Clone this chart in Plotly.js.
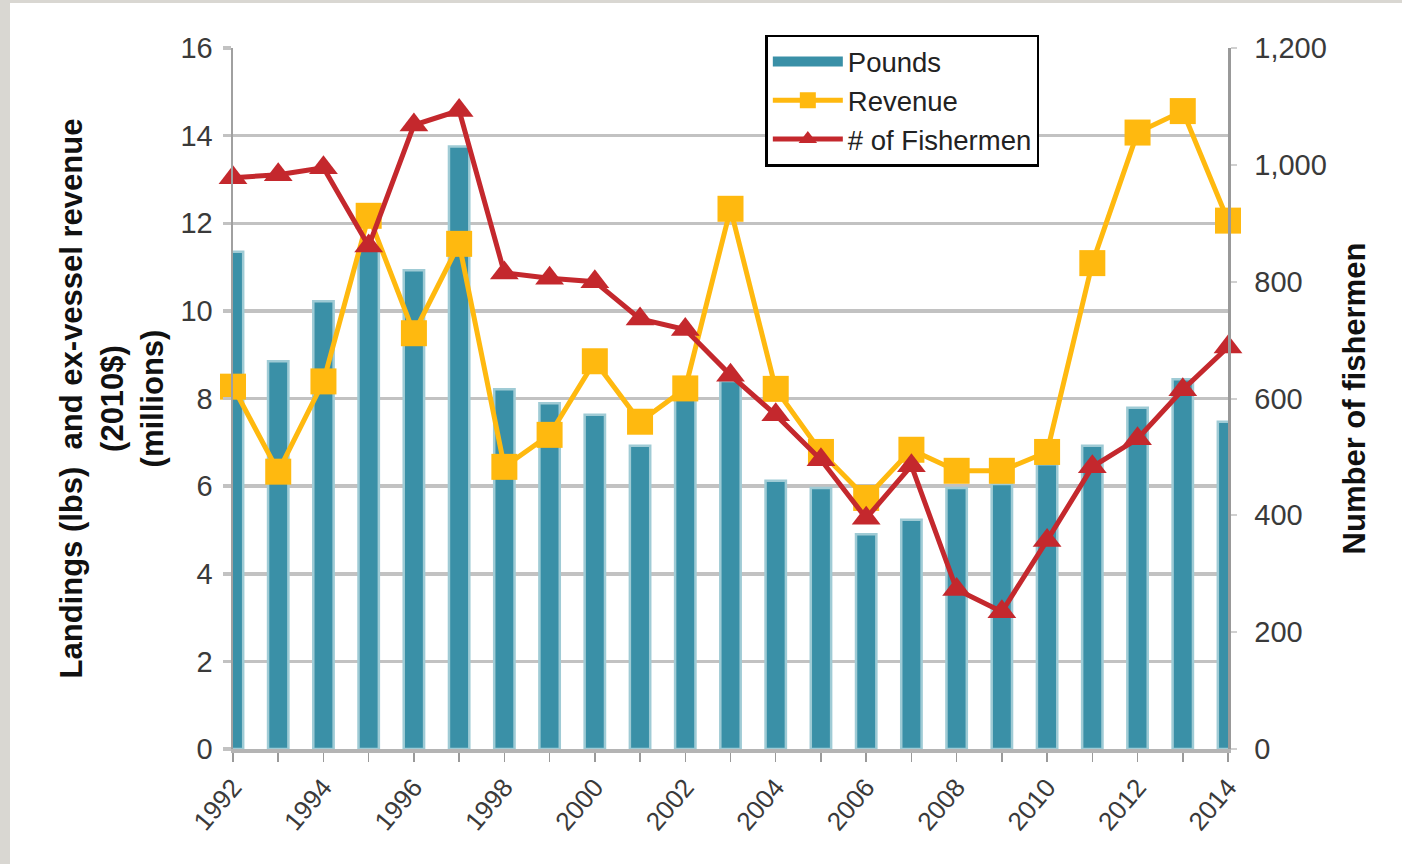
<!DOCTYPE html>
<html>
<head>
<meta charset="utf-8">
<script src="https://cdn.plot.ly/plotly-3.0.1.min.js"></script>
<style>
  html, body { margin: 0; padding: 0; background: #D9D7D2; }
  #chart { position: absolute; left: 10px; top: 3px; width: 1392px; height: 861px; background: #fff; }
</style>
</head>
<body>
<div id="chart"></div>
<script>
const years = [1992,1993,1994,1995,1996,1997,1998,1999,2000,2001,2002,2003,2004,2005,2006,2007,2008,2009,2010,2011,2012,2013,2014];
const pounds = [11.35,8.85,10.22,11.4,10.93,13.75,8.21,7.89,7.63,6.92,8.1,8.4,6.12,5.96,4.9,5.23,5.96,6.05,6.5,6.92,7.79,8.44,7.47];
const revenue = [8.27,6.33,8.39,12.17,9.49,11.53,6.44,7.17,8.85,7.47,8.23,12.33,8.22,6.78,5.73,6.83,6.35,6.35,6.78,11.09,14.07,14.56,12.06];
const fishermen = [978,983,995,861,1068,1093,815,806,800,736,718,640,572,495,395,485,273,235,357,483,531,615,688];
const xTickLabels = ['1992','1994','1996','1998','2000','2002','2004','2006','2008','2010','2012','2014'];
const leftTicks = [0,2,4,6,8,10,12,14,16];
const rightTicks = [0,200,400,600,800,1000,1200];

const TEAL = '#3A90A7', ORANGE = '#FFB90F', RED = '#C4282D';
const tickFont = {family: '"Liberation Sans Narrow", "Arial Narrow", "Liberation Sans", Arial, sans-serif', size: 29, color: '#3a3a3a'};
const titleFont = {family: '"Liberation Sans", Arial, sans-serif', size: 31, color: '#111', weight: 'bold'};

const traces = [
  {type: 'bar', x: years, y: pounds, name: 'Pounds', width: 0.45,
   marker: {color: TEAL, line: {color: '#9FCBD5', width: 2.5}}, showlegend: false, hoverinfo: 'x+y'},
  {type: 'scatter', mode: 'lines', x: [null], y: [null], name: 'Pounds',
   line: {color: TEAL, width: 16}, showlegend: true, hoverinfo: 'skip'},
  {type: 'scatter', mode: 'lines+markers', x: years, y: revenue, name: 'Revenue', cliponaxis: false,
   line: {color: ORANGE, width: 5}, marker: {symbol: 'square', size: 26, color: ORANGE}},
  {type: 'scatter', mode: 'lines+markers', x: years, y: fishermen, name: '# of Fishermen', yaxis: 'y2', cliponaxis: false,
   line: {color: RED, width: 5}, marker: {symbol: 'triangle-up', size: 25, color: RED}}
];

const layout = {
  width: 1392, height: 861,
  margin: {l: 223, r: 174, t: 45, b: 115},
  paper_bgcolor: '#ffffff', plot_bgcolor: '#ffffff',
  showlegend: true,
  legend: {x: 0.535, y: 1.019, xanchor: 'left', yanchor: 'top',
    bgcolor: '#ffffff', bordercolor: '#000', borderwidth: 2.5,
    font: {family: '"Liberation Sans", Arial, sans-serif', size: 27.5, color: '#222'},
    itemwidth: 70, tracegroupgap: 0},
  xaxis: {range: [1992, 2014], tickmode: 'array', tickvals: xTickLabels.map(Number), ticktext: xTickLabels,
    tickangle: -50, tickfont: {family: '"Liberation Sans", Arial, sans-serif', size: 26, color: '#3a3a3a'},
    ticks: 'outside', ticklen: 9, tickwidth: 1.5, tickcolor: '#9a9a9a',
    minor: {dtick: 1, ticks: 'outside', ticklen: 9, tickwidth: 1.5, tickcolor: '#9a9a9a', showgrid: false},
    showgrid: false, zeroline: false, showline: true, linecolor: '#B4B4B4', linewidth: 3.5, fixedrange: true},
  yaxis: {range: [0, 16], tickmode: 'array', tickvals: leftTicks, ticktext: leftTicks.map(String),
    tickfont: tickFont, ticks: 'outside', ticklen: 8, tickwidth: 3.5, tickcolor: '#C2C2C2',
    showgrid: true, gridcolor: '#C2C2C2', gridwidth: 3.5, zeroline: false,
    showline: true, linecolor: '#A0A0A0', linewidth: 2.5, ticklabelstandoff: 4,
    title: {text: 'Landings (lbs)  and ex-vessel revenue<br>(2010$)<br>(millions)', font: titleFont, standoff: 8}},
  yaxis2: {range: [0, 1200], overlaying: 'y', side: 'right', tickmode: 'array', tickvals: rightTicks,
    ticktext: rightTicks.map(v => v.toLocaleString('en-US')),
    tickfont: tickFont, ticks: 'outside', ticklen: 6, tickwidth: 2, tickcolor: '#D0D0D0', ticklabelstandoff: 12,
    showgrid: false, zeroline: false, showline: true, linecolor: '#999', linewidth: 2.5,
    title: {text: 'Number of fishermen', font: titleFont, standoff: 18}},
  bargap: 0
};

Plotly.newPlot('chart', traces, layout, {displayModeBar: false, staticPlot: true});
</script>
</body>
</html>
